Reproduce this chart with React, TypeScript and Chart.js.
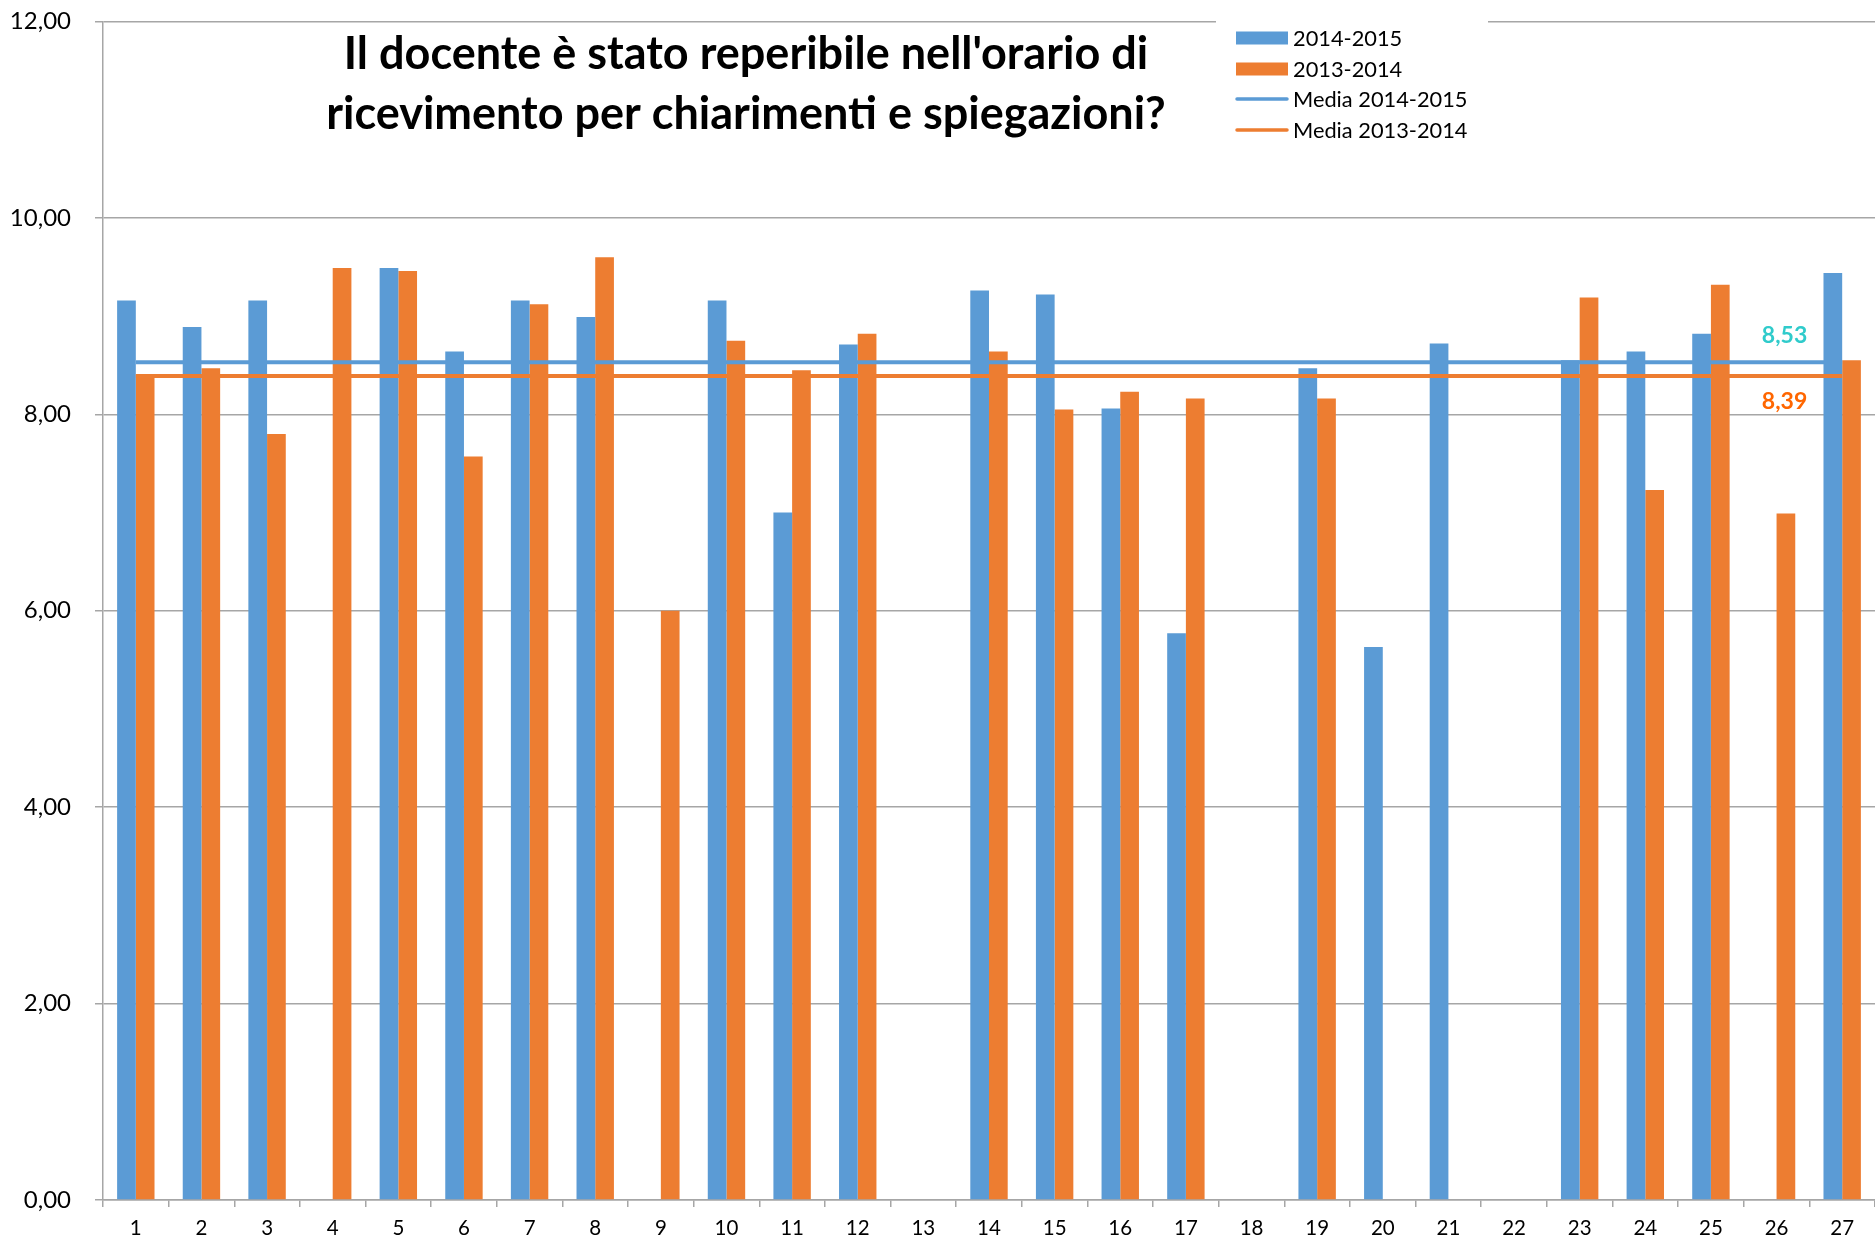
import React, { useEffect, useRef } from 'react';
import { Chart, registerables } from 'chart.js';

Chart.register(...registerables);

const categories = ['1', '2', '3', '4', '5', '6', '7', '8', '9', '10', '11', '12', '13', '14', '15', '16', '17', '18', '19', '20', '21', '22', '23', '24', '25', '26', '27'];

const values20142015: (number | null)[] = [9.16, 8.89, 9.16, null, 9.49, 8.64, 9.16, 8.99, null, 9.16, 7.0, 8.71, null, 9.26, 9.22, 8.06, 5.77, null, 8.47, 5.63, 8.72, null, 8.55, 8.64, 8.82, null, 9.44];

const values20132014: (number | null)[] = [8.4, 8.47, 7.8, 9.49, 9.46, 7.57, 9.12, 9.6, 6.0, 8.75, 8.45, 8.82, null, 8.64, 8.05, 8.23, 8.16, null, 8.16, null, null, null, 9.19, 7.23, 9.32, 6.99, 8.55];

const media20142015 = [8.53, 8.53, 8.53, 8.53, 8.53, 8.53, 8.53, 8.53, 8.53, 8.53, 8.53, 8.53, 8.53, 8.53, 8.53, 8.53, 8.53, 8.53, 8.53, 8.53, 8.53, 8.53, 8.53, 8.53, 8.53, 8.53, 8.53];
const media20132014 = [8.39, 8.39, 8.39, 8.39, 8.39, 8.39, 8.39, 8.39, 8.39, 8.39, 8.39, 8.39, 8.39, 8.39, 8.39, 8.39, 8.39, 8.39, 8.39, 8.39, 8.39, 8.39, 8.39, 8.39, 8.39, 8.39, 8.39];

const seriesLabels = ['2014-2015', '2013-2014', 'Media 2014-2015', 'Media 2013-2014'];
const titleLines = ["Il docente è stato reperibile nell'orario di", 'ricevimento per chiarimenti e spiegazioni?'];
const yTicks = [0, 2, 4, 6, 8, 10, 12];

const BLUE = '#5B9BD5';
const ORANGE = '#ED7D31';
const FONT = 'Lato, "Noto Sans", sans-serif';

const fmt = (v: number) => v.toFixed(2).replace('.', ',');

const overlayPlugin = {
  id: 'overlay',
  afterDraw(chart: any) {
    const ctx = chart.ctx as CanvasRenderingContext2D;
    const xs = chart.scales.x;
    const ys = chart.scales.y;
    ctx.save();

    // Mean labels
    const lastIdx = categories.length - 2;
    const lx = xs.getPixelForValue(lastIdx) + 8;
    ctx.font = `bold 23px ${FONT}`;
    ctx.textAlign = 'center';
    ctx.textBaseline = 'middle';
    ctx.fillStyle = '#2FCBCB';
    ctx.fillText(fmt(media20142015[0]), lx, ys.getPixelForValue(media20142015[0]) - 27);
    ctx.fillStyle = '#FF6600';
    ctx.fillText(fmt(media20132014[0]), lx, ys.getPixelForValue(media20132014[0]) + 26);

    // Title
    ctx.fillStyle = '#000';
    ctx.font = `bold 45px ${FONT}`;
    ctx.fillText(titleLines[0], 746, 54);
    ctx.fillText(titleLines[1], 746, 114);

    // Legend
    ctx.fillStyle = '#fff';
    ctx.fillRect(1216, 17, 272, 125);
    const rows = [38, 69, 99, 130];
    ctx.font = `21.8px ${FONT}`;
    ctx.textAlign = 'left';
    ctx.textBaseline = 'middle';
    ctx.fillStyle = BLUE;
    ctx.fillRect(1236, rows[0] - 6.5, 52, 13);
    ctx.fillStyle = ORANGE;
    ctx.fillRect(1236, rows[1] - 6.5, 52, 13);
    ctx.lineCap = 'round';
    ctx.lineWidth = 3.5;
    ctx.strokeStyle = BLUE;
    ctx.beginPath();
    ctx.moveTo(1237, rows[2]);
    ctx.lineTo(1287, rows[2]);
    ctx.stroke();
    ctx.strokeStyle = ORANGE;
    ctx.beginPath();
    ctx.moveTo(1237, rows[3]);
    ctx.lineTo(1287, rows[3]);
    ctx.stroke();
    ctx.fillStyle = '#000';
    seriesLabels.forEach((t, i) => ctx.fillText(t, 1293, rows[i] + 1));

    ctx.restore();
  },
};

export default function App() {
  const ref = useRef<HTMLCanvasElement | null>(null);

  useEffect(() => {
    if (!ref.current) return;
    const chart = new Chart(ref.current, {
      type: 'bar',
      data: {
        labels: categories,
        datasets: [
          {
            type: 'line',
            label: seriesLabels[2],
            data: media20142015,
            borderColor: BLUE,
            borderWidth: 4,
            pointRadius: 0,
            fill: false,
            order: 0,
          } as any,
          {
            type: 'line',
            label: seriesLabels[3],
            data: media20132014,
            borderColor: ORANGE,
            borderWidth: 4,
            pointRadius: 0,
            fill: false,
            order: 0,
          } as any,
          {
            type: 'bar',
            label: seriesLabels[0],
            data: values20142015,
            backgroundColor: BLUE,
            categoryPercentage: 0.57,
            barPercentage: 1.0,
            order: 1,
          },
          {
            type: 'bar',
            label: seriesLabels[1],
            data: values20132014,
            backgroundColor: ORANGE,
            categoryPercentage: 0.57,
            barPercentage: 1.0,
            order: 1,
          },
        ],
      },
      options: {
        responsive: false,
        animation: false,
        layout: { padding: { top: 21.5, left: 0, right: 0, bottom: 0 } },
        plugins: {
          legend: { display: false },
          tooltip: { enabled: false },
          title: { display: false },
        },
        scales: {
          x: {
            offset: true,
            grid: {
              display: true,
              drawOnChartArea: false,
              drawTicks: true,
              tickLength: 7,
              color: '#A6A6A6',
              lineWidth: 1.5,
              offset: true,
            },
            border: { display: true, color: '#A6A6A6', width: 1.5 },
            ticks: {
              font: { family: FONT, size: 20.5 },
              color: '#000',
              padding: 9,
              maxRotation: 0,
              autoSkip: false,
            },
            afterFit: (scale: any) => {
              scale.height = 38;
              scale.paddingLeft = 0;
              scale.paddingRight = 0;
            },
          },
          y: {
            min: 0,
            max: 12,
            afterBuildTicks: (scale: any) => {
              scale.ticks = yTicks.map((v) => ({ value: v }));
            },
            grid: {
              color: '#A6A6A6',
              lineWidth: 1.5,
              drawTicks: true,
              tickLength: 8,
            },
            border: { display: true, color: '#A6A6A6', width: 1.5 },
            ticks: {
              font: { family: FONT, size: 24 },
              color: '#000',
              padding: 24,
              callback: (v: any) => fmt(Number(v)),
            },
            afterFit: (scale: any) => {
              scale.width = 103;
              scale.paddingTop = 0;
              scale.paddingBottom = 0;
            },
          },
        },
      },
      plugins: [overlayPlugin],
    });
    return () => chart.destroy();
  }, []);

  return (
    <div style={{ position: 'fixed', left: 0, top: 0, width: 1875, height: 1238, background: '#fff' }}>
      <canvas ref={ref} width={1875} height={1238} style={{ width: 1875, height: 1238, display: 'block' }} />
    </div>
  );
}
